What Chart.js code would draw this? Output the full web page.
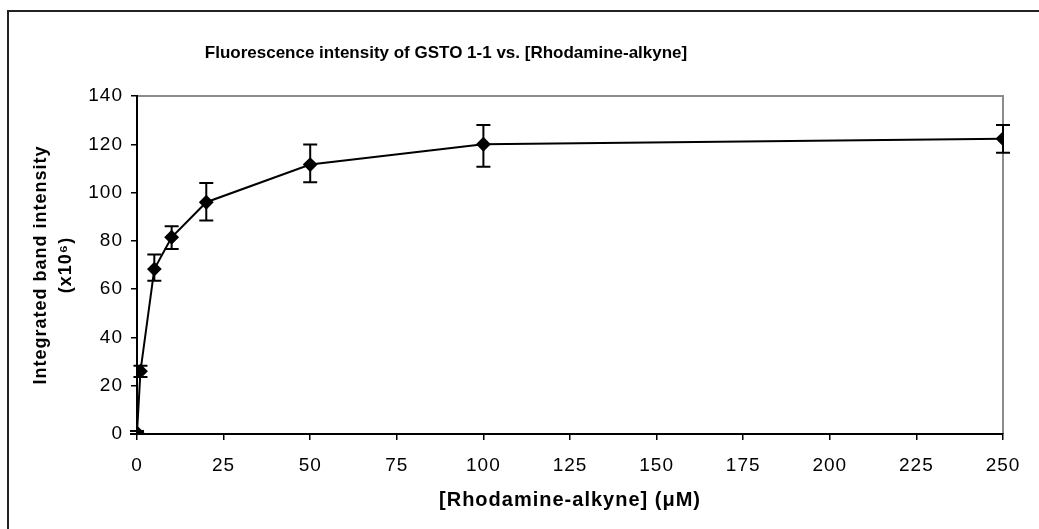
<!DOCTYPE html>
<html>
<head>
<meta charset="utf-8">
<script src="https://cdn.jsdelivr.net/npm/chart.js@4/dist/chart.umd.min.js"></script>
<style>
html,body{margin:0;padding:0;background:#fff;}
#wrap{position:relative;width:1039px;height:529px;}
</style>
</head>
<body>
<div id="wrap"><canvas id="c" width="1039" height="529"></canvas></div>
<script>
const chartTitle = 'Fluorescence intensity of GSTO 1-1 vs. [Rhodamine-alkyne]';
const xTitle = '[Rhodamine-alkyne] (\u03BCM)';
const yTitle = ['Integrated band intensity', '(x10\u2076)'];
const concentrations = [0, 1, 5, 10, 20, 50, 100, 250];
const intensity = [0.5, 26, 68.3, 81.5, 96, 111.6, 120, 122.3];
const errHigh = [1.2, 28.3, 74.3, 86, 104, 119.9, 128, 128];
const errLow = [0, 23.6, 63.5, 76.6, 88.4, 104.3, 110.7, 116.5];
const xTicks = [0, 25, 50, 75, 100, 125, 150, 175, 200, 225, 250];
const yTicks = [0, 20, 40, 60, 80, 100, 120, 140];

const FONT = '"Liberation Sans", Arial, Helvetica, sans-serif';

const frame = {
  id: 'frame',
  beforeDraw(chart) {
    const ctx = chart.ctx;
    const a = chart.chartArea;
    ctx.letterSpacing = '1px';
    ctx.save();
    ctx.fillStyle = '#fff';
    ctx.fillRect(0, 0, chart.width, chart.height);
    ctx.strokeStyle = '#222';
    ctx.lineWidth = 2;
    ctx.beginPath();
    ctx.moveTo(8, chart.height + 2);
    ctx.lineTo(8, 11);
    ctx.lineTo(chart.width + 2, 11);
    ctx.stroke();
    ctx.strokeStyle = '#8c8c8c';
    ctx.lineWidth = 2;
    ctx.beginPath();
    ctx.moveTo(a.left, a.top);
    ctx.lineTo(a.right, a.top);
    ctx.lineTo(a.right, a.bottom);
    ctx.stroke();
    ctx.fillStyle = '#000';
    ctx.font = 'bold 17px ' + FONT;
    ctx.letterSpacing = '0px';
    ctx.textAlign = 'center';
    ctx.textBaseline = 'middle';
    ctx.fillText(chartTitle, 446, 53);
    ctx.restore();
  }
};

const errorBars = {
  id: 'errorBars',
  afterDatasetsDraw(chart) {
    const ctx = chart.ctx;
    const xs = chart.scales.x, ys = chart.scales.y;
    ctx.save();
    ctx.strokeStyle = '#000';
    ctx.lineWidth = 2;
    const cap = 7;
    for (let i = 0; i < concentrations.length; i++) {
      const px = xs.getPixelForValue(concentrations[i]);
      const hi = ys.getPixelForValue(errHigh[i]);
      const lo = ys.getPixelForValue(errLow[i]);
      ctx.beginPath();
      ctx.moveTo(px, hi); ctx.lineTo(px, lo);
      ctx.moveTo(px - cap, hi); ctx.lineTo(px + cap, hi);
      ctx.moveTo(px - cap, lo); ctx.lineTo(px + cap, lo);
      ctx.stroke();
    }
    ctx.restore();
  }
};

new Chart(document.getElementById('c'), {
  type: 'scatter',
  data: {
    datasets: [{
      data: concentrations.map((x, i) => ({x: x, y: intensity[i]})),
      showLine: true,
      borderColor: '#000',
      borderWidth: 2,
      backgroundColor: '#000',
      pointStyle: 'rectRot',
      pointRadius: 6,
      pointBackgroundColor: '#000',
      pointBorderColor: '#000',
      tension: 0
    }]
  },
  options: {
    responsive: false,
    animation: false,
    layout: {padding: {left: 0, top: 96, right: 36, bottom: 0}},
    plugins: {legend: {display: false}, tooltip: {enabled: false}, title: {display: false}},
    scales: {
      x: {
        type: 'linear', min: 0, max: 250,
        afterBuildTicks(s) { s.ticks = xTicks.map(v => ({value: v})); },
        afterFit(s) { s.height = 95; },
        grid: {drawOnChartArea: false, color: '#000', tickLength: 6, lineWidth: 1.5},
        border: {color: '#000', width: 2},
        ticks: {color: '#000', font: {family: FONT, size: 19}, padding: 14, maxRotation: 0, autoSkip: false},
        title: {display: true, text: xTitle, color: '#000', font: {family: FONT, size: 20, weight: 'bold'}, padding: {top: 0, bottom: 17}}
      },
      y: {
        type: 'linear', min: 0, max: 140,
        afterBuildTicks(s) { s.ticks = yTicks.map(v => ({value: v})); },
        afterFit(s) { s.width = 137; },
        grid: {drawOnChartArea: false, color: '#000', tickLength: 6, lineWidth: 1.5},
        border: {color: '#000', width: 2},
        ticks: {color: '#000', font: {family: FONT, size: 19}, padding: 8},
        title: {display: true, text: yTitle, color: '#000', font: {family: FONT, size: 18, weight: 'bold', lineHeight: 1.4}, padding: {top: 28}}
      }
    }
  },
  plugins: [frame, errorBars]
});
</script>
</body>
</html>
